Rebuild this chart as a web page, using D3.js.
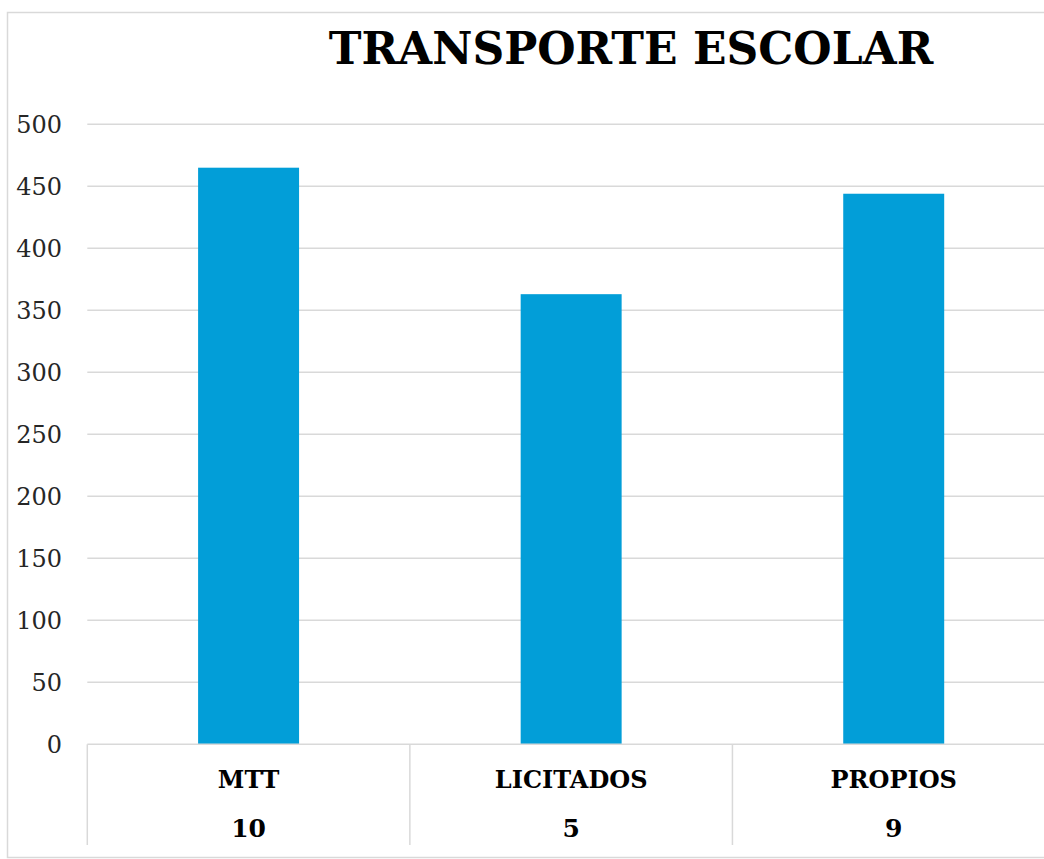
<!DOCTYPE html>
<html>
<head>
<meta charset="utf-8">
<script src="https://cdn.jsdelivr.net/npm/d3@7"></script>
<style>
  html, body { margin: 0; padding: 0; background: #fff; }
  svg { display: block; }
</style>
</head>
<body>
<svg id="chart" width="1044" height="859"></svg>
<script>
// Data
const categories = ["MTT", "LICITADOS", "PROPIOS"];
const studentValues = [465, 363, 444];
const tableCounts = [10, 5, 9];
const yTicks = [0, 50, 100, 150, 200, 250, 300, 350, 400, 450, 500];
const titleText = "TRANSPORTE ESCOLAR";

const svg = d3.select("#chart");

const plot = { left: 87.3, right: 1055, top: 124.3, bottom: 744.3 };
const serif = "'DejaVu Serif', serif";
const gridColor = "#d9d9d9";
const barColor = "#029ed8";

// Chart frame
svg.append("rect")
  .attr("x", 7.5).attr("y", 12.5)
  .attr("width", 1300).attr("height", 845)
  .attr("fill", "none").attr("stroke", gridColor).attr("stroke-width", 1.5);

// Title
svg.append("text")
  .attr("x", 631).attr("y", 64)
  .attr("text-anchor", "middle")
  .attr("font-family", serif)
  .attr("font-weight", "bold")
  .attr("font-size", 44)
  .attr("fill", "#000")
  .text(titleText);

const x = d3.scaleBand().domain(categories).range([plot.left, plot.right]).padding(0);
const y = d3.scaleLinear().domain([0, 500]).range([plot.bottom, plot.top]);

// Gridlines
svg.append("g").selectAll("line").data(yTicks.filter(d => d > 0)).join("line")
  .attr("x1", plot.left).attr("x2", plot.right)
  .attr("y1", d => y(d)).attr("y2", d => y(d))
  .attr("stroke", gridColor).attr("stroke-width", 1.5);

// Y axis labels
const yAxis = d3.axisLeft(y).tickValues(yTicks).tickSize(0).tickPadding(0);
const yg = svg.append("g").attr("transform", `translate(62,0)`).call(yAxis);
yg.select(".domain").remove();
yg.selectAll("text")
  .attr("font-family", serif)
  .attr("font-size", 24)
  .attr("fill", "#262626")
  .attr("dy", "0.36em");

// Bars
const barFrac = 0.313;
svg.append("g").selectAll("rect").data(categories).join("rect")
  .attr("x", (d) => x(d) + x.bandwidth() * (1 - barFrac) / 2)
  .attr("width", x.bandwidth() * barFrac)
  .attr("y", (d, i) => y(studentValues[i]))
  .attr("height", (d, i) => y(0) - y(studentValues[i]))
  .attr("fill", barColor);

// Data table under the axis
const tableBottom = 845;
svg.append("line")
  .attr("x1", plot.left).attr("x2", plot.right)
  .attr("y1", plot.bottom).attr("y2", plot.bottom)
  .attr("stroke", gridColor).attr("stroke-width", 1.5);

const bounds = categories.map(c => x(c)).concat([plot.right]);
svg.append("g").selectAll("line").data(bounds).join("line")
  .attr("x1", d => d).attr("x2", d => d)
  .attr("y1", plot.bottom).attr("y2", tableBottom)
  .attr("stroke", gridColor).attr("stroke-width", 1.5);

svg.append("g").selectAll("text").data(categories).join("text")
  .attr("x", d => x(d) + x.bandwidth() / 2)
  .attr("y", 788)
  .attr("text-anchor", "middle")
  .attr("font-family", serif)
  .attr("font-weight", "bold")
  .attr("font-size", 24)
  .attr("fill", "#000")
  .text(d => d);

svg.append("g").selectAll("text").data(tableCounts).join("text")
  .attr("x", (d, i) => x(categories[i]) + x.bandwidth() / 2)
  .attr("y", 837)
  .attr("text-anchor", "middle")
  .attr("font-family", serif)
  .attr("font-weight", "bold")
  .attr("font-size", 25)
  .attr("fill", "#000")
  .text(d => d);
</script>
</body>
</html>
